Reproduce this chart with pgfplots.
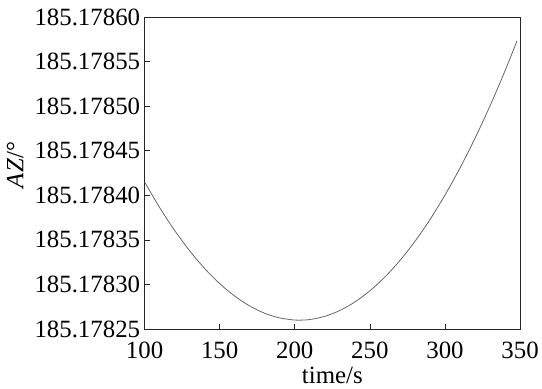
\documentclass[border=0pt]{standalone}
\usepackage{fontspec}
\setmainfont{Liberation Serif}
\usepackage{pgfplots}
\pgfplotsset{compat=1.18}
% strip the common prefix 185.178 textually so that the tiny differences survive the FPU
\def\myztrafo185.178#1#2#3\relax{\edef\pgfmathresult{#1#2.#30}}
\begin{document}
\begin{tikzpicture}
\begin{axis}[
  scale only axis, width=376.5bp, height=313bp,
  xmin=100, xmax=350,
  y coord trafo/.code={\edef\myztmp{#1}\expandafter\myztrafo\myztmp\relax},
  ymin=185.17825, ymax=185.17860,
  ytick={185.17825,185.17830,185.17835,185.17840,185.17845,185.17850,185.17855,185.17860},
  yticklabels={\textrm{185.17825},\textrm{185.17830},\textrm{185.17835},\textrm{185.17840},\textrm{185.17845},\textrm{185.17850},\textrm{185.17855},\textrm{185.17860}},
  xtick={100,150,200,250,300,350},
  tick align=inside, tick pos=left, major tick length=5bp,
  axis line style={black!85, line width=0.7bp},
  every tick/.style={black!85, line width=0.7bp},
  font=\fontsize{25}{29}\selectfont,
  /pgf/number format/assume math mode=true,
  xticklabel style={yshift=-9bp},
  yticklabel style={xshift=-1bp},
  xlabel={time/s}, ylabel={\textit{AZ}/°},
  xlabel style={yshift=-1.5bp},
  ylabel style={yshift=4bp, xshift=8bp},
]
\addplot[black!60, line width=0.8bp, mark=none, smooth] table {
x y
100 185.1784149
110 185.1783863
120 185.1783606
130 185.1783378
140 185.1783179
150 185.1783010
160 185.1782870
170 185.1782759
180 185.1782677
190 185.1782625
200 185.1782601
203 185.1782600
210 185.1782607
220 185.1782643
230 185.1782709
240 185.1782804
250 185.1782929
260 185.1783084
270 185.1783269
280 185.1783483
290 185.1783728
300 185.1784002
310 185.1784306
320 185.1784640
330 185.1785003
340 185.1785397
348 185.1785733
};
\end{axis}
\path (current axis.south west) ++(-145bp,-60bp) rectangle ++(542bp,390bp);
\end{tikzpicture}
\end{document}
